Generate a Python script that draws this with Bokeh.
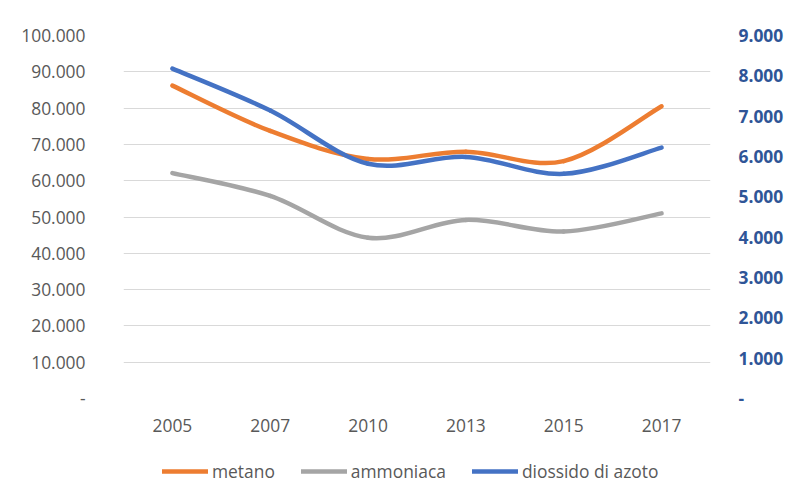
from bokeh.plotting import figure
from bokeh.layouts import column
from bokeh.models import Range1d, LinearAxis, FixedTicker, Legend, LegendItem
from bokeh.embed import file_html
from bokeh.resources import INLINE

years = ["2005", "2007", "2010", "2013", "2015", "2017"]
metano = [86200, 73700, 66000, 68000, 65400, 80500]
ammoniaca = [62100, 55800, 44300, 49200, 46000, 51000]
diossido = [8180, 7140, 5820, 5990, 5570, 6220]

series_names = ["metano", "ammoniaca", "diossido di azoto"]
series_colors = ["#ED7D31", "#A5A5A5", "#4472C4"]

left_ticks = list(range(0, 100001, 10000))
right_ticks = list(range(0, 9001, 1000))


def fmt(v):
    return "-" if v == 0 else f"{v:,}".replace(",", ".")


def bezier_data(ys):
    n = len(ys)
    xs = list(range(n))
    d = dict(x0=[], y0=[], x1=[], y1=[], cx0=[], cy0=[], cx1=[], cy1=[])
    for i in range(n - 1):
        pm = max(i - 1, 0)
        pp = min(i + 2, n - 1)
        d["x0"].append(xs[i]); d["y0"].append(ys[i])
        d["x1"].append(xs[i + 1]); d["y1"].append(ys[i + 1])
        d["cx0"].append(xs[i] + (xs[i + 1] - xs[pm]) / 6)
        d["cy0"].append(ys[i] + (ys[i + 1] - ys[pm]) / 6)
        d["cx1"].append(xs[i + 1] - (xs[pp] - xs[i]) / 6)
        d["cy1"].append(ys[i + 1] - (ys[pp] - ys[i]) / 6)
    return d


FONT = "Open Sans"
FS = "17.4px"
W = 790

p = figure(width=W, height=445, output_backend="svg", toolbar_location=None,
           x_range=Range1d(-0.5, len(years) - 0.5), y_range=Range1d(0, 100000),
           min_border_left=123, min_border_right=80, min_border_top=35,
           min_border_bottom=47)
p.extra_y_ranges = {"right": Range1d(0, 9000)}
p.outline_line_color = None

p.xgrid.grid_line_color = None
p.ygrid.grid_line_color = "#d9d9d9"
p.ygrid.grid_line_width = 1
p.ygrid.ticker = FixedTicker(ticks=left_ticks)

# x axis
xa = p.xaxis[0]
xa.ticker = FixedTicker(ticks=list(range(len(years))))
xa.major_label_overrides = {i: y for i, y in enumerate(years)}
xa.axis_line_color = None
xa.major_tick_line_color = None
xa.minor_tick_line_color = None
xa.major_label_text_font = FONT
xa.major_label_text_font_size = FS
xa.major_label_text_color = "#595959"
xa.major_label_standoff = 14

# left axis
ya = p.yaxis[0]
ya.ticker = FixedTicker(ticks=left_ticks)
ya.major_label_overrides = {v: fmt(v) for v in left_ticks}
ya.axis_line_color = None
ya.major_tick_line_color = None
ya.minor_tick_line_color = None
ya.major_label_text_font = FONT
ya.major_label_text_font_size = FS
ya.major_label_text_color = "#595959"
ya.major_label_standoff = 32

# right axis
ra = LinearAxis(y_range_name="right", ticker=FixedTicker(ticks=right_ticks))
ra.major_label_overrides = {v: fmt(v) for v in right_ticks}
ra.axis_line_color = None
ra.major_tick_line_color = None
ra.minor_tick_line_color = None
ra.major_label_text_font = FONT
ra.major_label_text_font_size = FS
ra.major_label_text_color = "#2F5597"
ra.major_label_text_font_style = "bold"
ra.major_label_standoff = 22
p.add_layout(ra, "right")

all_series = [metano, ammoniaca, diossido]
for ys, col, rng in zip(all_series, series_colors, ["default", "default", "right"]):
    p.bezier(source=bezier_data(ys), x0="x0", y0="y0", x1="x1", y1="y1",
             cx0="cx0", cy0="cy0", cx1="cx1", cy1="cy1",
             line_color=col, line_width=4.5, line_cap="round",
             y_range_name=rng)

# legend strip below the chart (proxy renderers are single points outside view)
lg = figure(width=W, height=44, output_backend="svg", toolbar_location=None,
            x_axis_location=None, y_axis_location=None, min_border=0,
            x_range=Range1d(0, 1), y_range=Range1d(0, 1))
lg.outline_line_color = None
lg.xgrid.grid_line_color = None
lg.ygrid.grid_line_color = None
items = []
for name, col, ys in zip(series_names, series_colors, all_series):
    r = lg.line(x=[0], y=[ys[0]], line_color=col, line_width=4.5, line_cap="round")
    items.append(LegendItem(label=name, renderers=[r]))
legend = Legend(items=items, orientation="horizontal", location=(39, 6))
legend.label_text_font = FONT
legend.label_text_font_size = FS
legend.label_text_color = "#595959"
legend.glyph_width = 46
legend.label_standoff = 4
legend.spacing = 26
legend.border_line_color = None
legend.background_fill_alpha = 0
legend.padding = 0
legend.margin = 0
lg.add_layout(legend)

layout = column(p, lg, spacing=0)
open("out.html", "w").write(file_html(layout, INLINE))
